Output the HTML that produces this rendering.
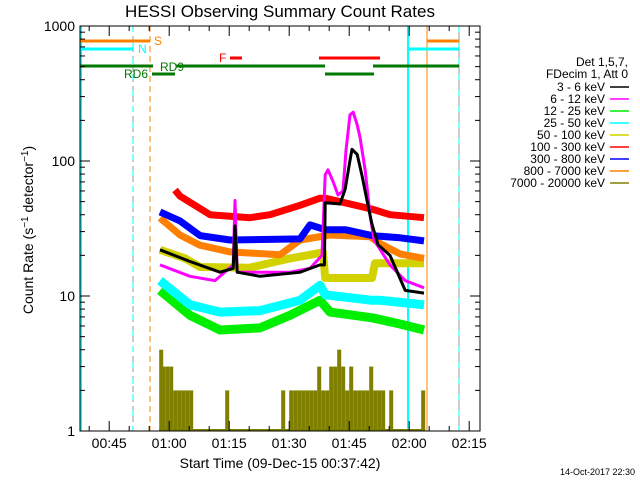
<!DOCTYPE html>
<html><head><meta charset="utf-8"><style>
html,body{margin:0;padding:0;background:#fff}
svg{display:block;font-family:"Liberation Sans",sans-serif}
</style></head><body>
<svg id="chart" width="640" height="480" viewBox="0 0 640 480">
<text x="280" y="17" font-size="17" text-anchor="middle">HESSI Observing Summary Count Rates</text>
<text transform="translate(33,230) rotate(-90)" font-size="14" text-anchor="middle">Count Rate (s<tspan baseline-shift="super" font-size="10">−1</tspan> detector<tspan baseline-shift="super" font-size="10">−1</tspan>)</text>
<text x="280" y="468" font-size="14" text-anchor="middle">Start Time (09-Dec-15 00:37:42)</text>
<text x="635" y="475" font-size="9" text-anchor="end">14-Oct-2017 22:30</text>
<g id="marks"></g>
<g id="axes"></g>
<g id="legend"></g>
</svg>
<script>
const yTicks=[1,10,100,1000];
const yTickLabels=["1","10","100","1000"];
const xTicks=[45,60,75,90,105,120,135];
const xTickLabels=["00:45","01:00","01:15","01:30","01:45","02:00","02:15"];
const seriesNames=["3 - 6 keV","6 - 12 keV","12 - 25 keV","25 - 50 keV","50 - 100 keV","100 - 300 keV","300 - 800 keV","800 - 7000 keV","7000 - 20000 keV"];
const seriesColors=["#000000","#ff00ff","#00ee00","#00ffff","#d2d200","#ff0000","#0000ff","#ff8000","#808000"];
// times in minutes after 00:00
const tBlack=[57.7,65.2,72.7,76,76.45,77,82.7,92.7,97.7,98.8,99,102.7,104,105.2,105.7,107,108.2,109.45,110.7,112.2,115.2,119,123.7];
const vBlack=[22,18,15,16,33,15,14,15,17,17,49,48,62,101,122,112,78,51,34,24,20,11,10.5];
const tMag=[57.7,65.2,71.45,76,76.45,77,82.7,90.2,95.2,98.2,99,99.7,101,102.2,103.45,104.2,105.2,106,107,107.7,109,110.2,111.2,115.2,119,123.7];
const vMag=[17,14,13,17,51,15,15,15,16,20,79,86,70,56,60,120,220,230,185,150,85,40,26,17,13,11.5];
const tLime=[57.7,65.2,72.7,82.7,90.2,97.7,100.2,110.7,117.7,123.7];
const vLime=[11,7.2,5.6,5.8,7.2,9.3,7.6,6.9,6.2,5.6];
const tCyan=[57.7,65.2,72.7,82.7,92.7,97.7,99,110.7,112.7,123.7];
const vCyan=[13,8.6,7.6,7.8,9.3,12,10.2,9.3,9.3,8.6];
const tYel=[57.7,64,67.7,80.2,90.2,98.45,99,110.7,111.45,123.7];
const vYel=[22,19,16.4,16.2,19,21,13.6,13.6,17.5,17.5];
const tRed=[61.45,62.7,70.2,80.2,85.2,92.7,97.7,99,110.7,115.2,123.7];
const vRed=[61,55,40,38,40,47,53,53,44,40,38];
const tBlue=[57.7,62.7,67.7,75.2,92.7,95.2,99,104,110.7,117.7,123.7];
const vBlue=[42,36,28,26,26.5,33.6,31,31,28,27,25.6];
const tOrg=[57.7,62.7,67.7,75.2,87.7,92.7,100.2,110.2,112.7,117.7,123.7];
const vOrg=[37.8,28.3,23.8,21.2,20.2,26,28.3,27.5,24.5,20.5,19];
const tOlive=[57.5,58,59,60,61,62,63,64,65,66,67,68,69,70,71,72,73,74,75,76,77,78,79,80,81,82,83,84,85,86,87,88,89,90,91,92,93,94,95,96,97,98,99,100,101,102,103,104,105,106,107,108,109,110,111,112,113,114,115,116,117,118,119,120,121,122,123,124];
const vOlive=[4,3,3,3,2,2,2,2,2,1,1,1,1,1,1,1,1,2,1,1,1,1,1,1,1,1,1,1,1,1,1,2,1,2,2,2,2,2,2,2,3,2,2,3,3,4,3,2,3,2,2,2,2,3,2,2,2,1,2,1,1,1,1,1,1,1,2,1];

const NS="http://www.w3.org/2000/svg";
const X0=80,X1=480,Y0=26,Y1=431;
function xs(t){return X0+(t-37.7)*4;}
function ys(v){return Y1-135*Math.log10(v);}
function mk(tag,attrs,parent){const e=document.createElementNS(NS,tag);for(const k in attrs)e.setAttribute(k,attrs[k]);parent.appendChild(e);return e;}
const marks=document.getElementById('marks');
const axes=document.getElementById('axes');
const legend=document.getElementById('legend');

function hl(x1,x2,y,c,name,w){const l=mk('line',{x1:x1,x2:x2,y1:y,y2:y,stroke:c,'stroke-width':w||3},marks);}
function vl(x,c,dash,name,w){const l=mk('line',{x1:x,x2:x,y1:Y0,y2:Y1,stroke:c,'stroke-width':w||1},marks);if(dash)l.setAttribute('stroke-dasharray',dash);}
vl(133,'#999999','6,4','saa-line-1');
vl(459,'#999999',null,'saa-line-2');
vl(133,'#00ffff','6,10','night-end-line');
vl(150,'#ff8000','6,4','saa-end-line');
vl(81,'#00ffff',null,'night-start-line',2);
vl(408,'#00ffff',null,'night-line-2',2);
vl(427,'#ff8000',null,'saa-start-line');
vl(459,'#00ffff','6,10','night-end-line-2');
hl(80,150,41,'#ff8000','saa-bar-1');hl(427,459,41,'#ff8000','saa-bar-2');
hl(80,133,49,'#00ffff','night-bar-1');hl(408,459,49,'#00ffff','night-bar-2');
hl(230,242,58,'#ff0000','flare-bar-1');hl(319,380,58,'#ff0000','flare-bar-2');
hl(80,153,66,'#007700','decim-bar-1');hl(176,325,66,'#007700','decim-bar-2');hl(373,459,66,'#007700','decim-bar-3');
hl(152,175,74,'#007700','rd6-bar');hl(325,374,74,'#007700','rd-bar-2');
function lbl(x,y,s,c,name){const t=mk('text',{x:x,y:y,fill:c,'font-size':12},marks);t.textContent=s;}
lbl(154,45,'S','#ff8000','saa-label');lbl(138,53,'N','#00ffff','night-label');
lbl(219,62,'F','#ff0000','flare-label');lbl(160,71,'RD9','#007700','rd9-label');lbl(124,78,'RD6','#007700','rd6-label');

// olive histogram (drawn first, behind)
for(let k=0;k<tOlive.length;k++){
  if(vOlive[k]<=1)continue;
  const y=ys(vOlive[k]);
  const r=mk('rect',{x:xs(tOlive[k]).toFixed(1),y:y.toFixed(1),width:4,height:(Y1-y).toFixed(1),fill:seriesColors[8]},marks);
  
  
}
{
  const l=mk('line',{x1:xs(57.5),x2:xs(124),y1:Y1-1,y2:Y1-1,stroke:seriesColors[8],'stroke-width':2},marks);
  
  
}

const sets=[[tBlack,vBlack],[tMag,vMag],[tLime,vLime],[tCyan,vCyan],[tYel,vYel],[tRed,vRed],[tBlue,vBlue],[tOrg,vOrg]];
const widths=[3,3,9,9,8,7,7,7];
const order=[2,3,4,7,6,5,1,0];
order.forEach(i=>{
  const [ts,vs]=sets[i];
  let d='';
  for(let k=0;k<ts.length;k++){
    const x=xs(ts[k]).toFixed(1),y=ys(vs[k]).toFixed(1);
    d+=(k?'L':'M')+x+','+y;
  }
  const p=mk('path',{d:d,fill:'none',stroke:seriesColors[i],'stroke-width':widths[i],'stroke-linejoin':'round'},marks);
  
  
});

const frame=mk('rect',{x:X0,y:Y0,width:X1-X0,height:Y1-Y0,fill:'none',stroke:'#000','stroke-width':1},axes);


yTicks.forEach((v,i)=>{
  const y=ys(v);
  mk('line',{x1:X0,x2:X0+10,y1:y,y2:y,stroke:'#000'},axes);
  mk('line',{x1:X1-10,x2:X1,y1:y,y2:y,stroke:'#000'},axes);
  const t=mk('text',{x:X0-5,y:y+5,'font-size':14,'text-anchor':'end'},axes);
  t.textContent=yTickLabels[i];
  
  
  if(i<yTicks.length-1){for(let m=2;m<10;m++){const ym=ys(v*m);mk('line',{x1:X0,x2:X0+5,y1:ym,y2:ym,stroke:'#000'},axes);mk('line',{x1:X1-5,x2:X1,y1:ym,y2:ym,stroke:'#000'},axes);}}
});
for(let t=40;t<=135;t+=5){const x=xs(t);if(x<X0||x>X1)continue;const L=(t%15===0)?10:5;
  mk('line',{x1:x,x2:x,y1:Y1,y2:Y1-L,stroke:'#000'},axes);mk('line',{x1:x,x2:x,y1:Y0,y2:Y0+L,stroke:'#000'},axes);}
xTicks.forEach((t,i)=>{
  const tx=mk('text',{x:xs(t),y:448,'font-size':14,'text-anchor':'middle'},axes);
  tx.textContent=xTickLabels[i];
  
  
});

function lt(y,s){const t=mk('text',{x:628,y:y,'font-size':12,'text-anchor':'end'},legend);t.textContent=s;}
lt(66,'Det 1,5,7,');lt(78,'FDecim 1, Att 0');
seriesNames.forEach((n,i)=>{
  const y=91+12*i;
  const t=mk('text',{x:605,y:y,'font-size':12,'text-anchor':'end'},legend);
  t.textContent=n;
  
  
  mk('line',{x1:610,x2:629,y1:y-4,y2:y-4,stroke:seriesColors[i],'stroke-width':1.5},legend);
});
</script>
</body></html>
